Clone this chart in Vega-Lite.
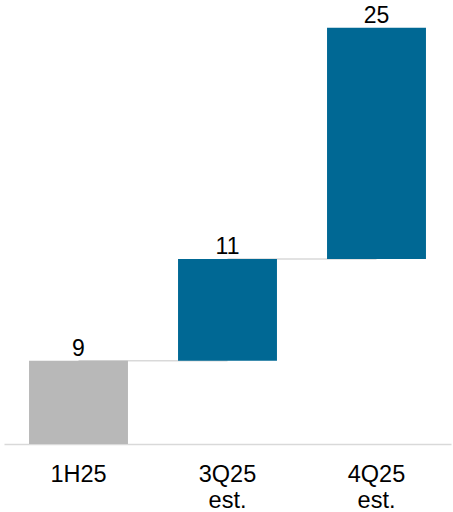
{
  "$schema": "https://vega.github.io/schema/vega-lite/v6.json",
  "width": 447,
  "height": 444,
  "autosize": {"type": "none"},
  "padding": {"left": 4, "top": 0, "right": 2, "bottom": 68},
  "config": {"view": {"stroke": null}, "font": "Liberation Sans"},
  "data": {
    "values": [
      {"cat": "1H25", "start": 0, "end": 9, "value": 9, "kind": "base", "next": "3Q25 est."},
      {"cat": "3Q25 est.", "start": 9, "end": 20, "value": 11, "kind": "est", "next": "4Q25 est."},
      {"cat": "4Q25 est.", "start": 20, "end": 45, "value": 25, "kind": "est", "next": null}
    ]
  },
  "encoding": {
    "x": {
      "field": "cat",
      "type": "nominal",
      "sort": null,
      "scale": {"paddingInner": 0.336, "paddingOuter": 0.168},
      "axis": {
        "title": null,
        "labelAngle": 0,
        "ticks": false,
        "domainColor": "#d9d9d9",
        "domainWidth": 1.5,
        "labelFontSize": 23.5,
        "labelColor": "#000000",
        "labelFont": "Liberation Sans",
        "labelBaseline": "alphabetic",
        "labelPadding": 37,
        "labelLineHeight": 26,
        "labelExpr": "split(datum.label, ' ')"
      }
    }
  },
  "layer": [
    {
      "transform": [{"filter": "datum.next != null"}],
      "mark": {"type": "rule", "color": "#d9d9d9", "strokeWidth": 1.5},
      "encoding": {
        "x2": {"field": "next"},
        "y": {"field": "end", "type": "quantitative", "scale": {"domain": [0, 48]}, "axis": null}
      }
    },
    {
      "mark": {"type": "bar"},
      "encoding": {
        "y": {"field": "start", "type": "quantitative", "scale": {"domain": [0, 48]}, "axis": null},
        "y2": {"field": "end"},
        "color": {
          "field": "kind",
          "type": "nominal",
          "scale": {"domain": ["base", "est"], "range": ["#b8b8b8", "#006894"]},
          "legend": null
        }
      }
    },
    {
      "mark": {"type": "text", "baseline": "alphabetic", "dy": -5, "fontSize": 23, "color": "#000000"},
      "encoding": {
        "y": {"field": "end", "type": "quantitative", "scale": {"domain": [0, 48]}, "axis": null},
        "text": {"field": "value", "type": "quantitative"}
      }
    }
  ]
}
